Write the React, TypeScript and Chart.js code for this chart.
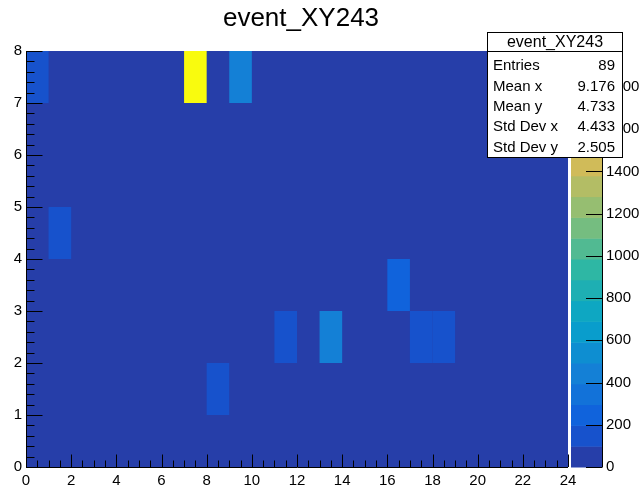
import React, { useEffect, useRef } from "react";
import { Chart, registerables } from "chart.js";

Chart.register(...registerables);

// ---------- data ----------
const TITLE = "event_XY243";
const X_MIN = 0;
const X_MAX = 24;
const Y_MIN = 0;
const Y_MAX = 8;
const BIN_W = 1;
const BIN_H = 1;
const Z_MAX = 1970;
const N_CONTOURS = 20;
const X_TICK_STEP = 2;
const Y_TICK_STEP = 1;
const zTickValues = [0, 200, 400, 600, 800, 1000, 1200, 1400, 1600, 1800];

// lower bin edges and contents of the filled (non-background) cells
const cellXLow = [0, 1, 7, 9, 8, 11, 13, 16, 17, 18];
const cellYLow = [7, 4, 7, 7, 1, 2, 2, 3, 2, 2];
const cellValue = [150, 150, 1970, 450, 150, 160, 450, 250, 150, 150];

const statLabels = ["Entries", "Mean x", "Mean y", "Std Dev x", "Std Dev y"];
const statValues = ["89", "9.176", "4.733", "4.433", "2.505"];

// ---------- style ----------
const FONT = '"Liberation Sans", Arial, Helvetica, sans-serif';

const birdStops = [0.0, 0.125, 0.25, 0.375, 0.5, 0.625, 0.75, 0.875, 1.0];
const birdR = [0.2082, 0.0592, 0.078, 0.0232, 0.1802, 0.5301, 0.8186, 0.9956, 0.9764];
const birdG = [0.1664, 0.3599, 0.5041, 0.6419, 0.7178, 0.7492, 0.7328, 0.7862, 0.9832];
const birdB = [0.5293, 0.8684, 0.8385, 0.7914, 0.6425, 0.4662, 0.3499, 0.1968, 0.0539];

function bird(f: number): string {
  const t = Math.max(0, Math.min(1, f));
  let k = 0;
  while (k < birdStops.length - 2 && t > birdStops[k + 1]) k++;
  const u = (t - birdStops[k]) / (birdStops[k + 1] - birdStops[k]);
  const c = (a: number[]) => Math.round(255 * (a[k] + (a[k + 1] - a[k]) * u));
  return `rgb(${c(birdR)},${c(birdG)},${c(birdB)})`;
}

function contourIndex(v: number): number {
  const i = Math.floor(v / (Z_MAX / N_CONTOURS));
  return Math.max(0, Math.min(N_CONTOURS - 1, i));
}
function contourColor(i: number): string {
  return bird((i + 0.99) / N_CONTOURS);
}

const rootPlugin = {
  id: "rootLook",
  beforeDatasetsDraw(chart: any) {
    const { ctx, chartArea } = chart;
    const { left, right, top, bottom } = chartArea;
    const xs = chart.scales.x;
    const ys = chart.scales.y;
    const zs = chart.scales.z;
    ctx.save();
    ctx.fillStyle = contourColor(0);
    ctx.fillRect(left, top, right - left, bottom - top);
    const data = chart.data.datasets[0].data;
    for (const d of data) {
      const x0 = xs.getPixelForValue(d.x - BIN_W / 2);
      const x1 = xs.getPixelForValue(d.x + BIN_W / 2);
      const y0 = ys.getPixelForValue(d.y + BIN_H / 2);
      const y1 = ys.getPixelForValue(d.y - BIN_H / 2);
      ctx.fillStyle = contourColor(contourIndex(d.v));
      ctx.fillRect(x0, y0, x1 - x0, y1 - y0);
    }
    const barL = zs.left + 3;
    const barR = zs.left + 34;
    const step = Z_MAX / N_CONTOURS;
    for (let i = 0; i < N_CONTOURS; i++) {
      const yb = zs.getPixelForValue(i * step);
      const yt = zs.getPixelForValue((i + 1) * step);
      ctx.fillStyle = contourColor(i);
      ctx.fillRect(barL, yt, barR - barL, yb - yt + 0.5);
    }
    ctx.restore();
  },
  afterDatasetsDraw(chart: any) {
    const { ctx, chartArea } = chart;
    const { left, right, top, bottom } = chartArea;
    const xs = chart.scales.x;
    const ys = chart.scales.y;
    const zs = chart.scales.z;
    ctx.save();
    ctx.strokeStyle = "#000";
    ctx.lineWidth = 1;
    ctx.beginPath();
    const nx = Math.round((X_MAX - X_MIN) / 0.5);
    for (let k = 0; k <= nx; k++) {
      const v = X_MIN + k * 0.5;
      const px = Math.round(xs.getPixelForValue(v)) + 0.5;
      const len = k % 4 === 0 ? 12.5 : 6.5;
      ctx.moveTo(px, bottom);
      ctx.lineTo(px, bottom - len);
    }
    const ny = Math.round((Y_MAX - Y_MIN) / 0.2);
    for (let k = 0; k <= ny; k++) {
      const v = Y_MIN + k * 0.2;
      const py = Math.round(ys.getPixelForValue(v)) + 0.5;
      const len = k % 5 === 0 ? 16.5 : 8.5;
      ctx.moveTo(left, py);
      ctx.lineTo(left + len, py);
    }
    ctx.moveTo(Math.round(left) + 0.5, top);
    ctx.lineTo(Math.round(left) + 0.5, Math.round(bottom) + 0.5);
    ctx.lineTo(right, Math.round(bottom) + 0.5);
    const barR = Math.round(zs.left + 34) + 0.5;
    ctx.moveTo(barR, top);
    ctx.lineTo(barR, bottom);
    for (const t of zs.ticks) {
      const py = Math.round(zs.getPixelForValue(t.value)) + 0.5;
      ctx.moveTo(barR - 16.5, py);
      ctx.lineTo(barR, py);
    }
    ctx.stroke();
    ctx.restore();
  },
  afterDraw(chart: any) {
    const { ctx } = chart;
    ctx.save();
    ctx.fillStyle = "#000";
    ctx.font = `26px ${FONT}`;
    ctx.textAlign = "center";
    ctx.textBaseline = "middle";
    ctx.fillText(TITLE, 301, 19);
    const bx = 487.5, by = 32.5, bw = 135, bh = 125;
    ctx.fillStyle = "#fff";
    ctx.fillRect(bx, by, bw, bh);
    ctx.strokeStyle = "#000";
    ctx.lineWidth = 1;
    ctx.strokeRect(bx, by, bw, bh);
    ctx.beginPath();
    ctx.moveTo(bx, 51.5);
    ctx.lineTo(bx + bw, 51.5);
    ctx.stroke();
    ctx.fillStyle = "#000";
    ctx.font = `16px ${FONT}`;
    ctx.textAlign = "center";
    ctx.fillText(TITLE, bx + bw / 2, 42.5);
    ctx.font = `15px ${FONT}`;
    const rows = [65.5, 86.5, 106.5, 127, 147.5];
    statLabels.forEach((lab, i) => {
      ctx.textAlign = "left";
      ctx.fillText(lab, 493, rows[i]);
      ctx.textAlign = "right";
      ctx.fillText(statValues[i], 615, rows[i]);
    });
    ctx.restore();
  },
};

export default function App() {
  const ref = useRef<HTMLCanvasElement | null>(null);
  useEffect(() => {
    if (!ref.current) return;
    const points = cellXLow.map((x, i) => ({
      x: x + BIN_W / 2,
      y: cellYLow[i] + BIN_H / 2,
      v: cellValue[i],
    }));
    const tickFont = { family: FONT, size: 15 };
    const chart = new Chart(ref.current, {
      type: "scatter",
      data: {
        datasets: [
          { label: TITLE, data: points as any, pointRadius: 0, pointHoverRadius: 0 },
        ],
      },
      plugins: [rootPlugin],
      options: {
        responsive: false,
        animation: false,
        devicePixelRatio: 1,
        events: [],
        layout: { padding: { top: 51, left: 0, right: 0, bottom: 0 } },
        plugins: {
          legend: { display: false },
          tooltip: { enabled: false },
          title: { display: false },
        },
        scales: {
          x: {
            type: "linear",
            min: X_MIN,
            max: X_MAX,
            grid: { display: false, drawTicks: false },
            border: { display: false },
            ticks: {
              stepSize: X_TICK_STEP,
              autoSkip: false,
              maxRotation: 0,
              color: "#000",
              font: tickFont,
              padding: 5,
            },
            afterFit: (s: any) => {
              s.height = 23;
            },
          },
          y: {
            type: "linear",
            position: "left",
            min: Y_MIN,
            max: Y_MAX,
            grid: { display: false, drawTicks: false },
            border: { display: false },
            ticks: {
              stepSize: Y_TICK_STEP,
              color: "#000",
              font: tickFont,
              padding: 4,
            },
            afterFit: (s: any) => {
              s.width = 26;
              s.paddingTop = 0;
              s.paddingBottom = 0;
            },
          },
          z: {
            type: "linear",
            position: "right",
            min: 0,
            max: Z_MAX,
            grid: { display: false, drawTicks: false },
            border: { display: false },
            afterBuildTicks: (s: any) => {
              s.ticks = zTickValues.map((v) => ({ value: v }));
            },
            ticks: {
              color: "#000",
              font: tickFont,
              padding: 38,
              callback: (v: any) => String(v),
            },
            afterFit: (s: any) => {
              s.width = 73;
              s.paddingTop = 0;
              s.paddingBottom = 0;
            },
          },
        } as any,
      },
    });
    return () => chart.destroy();
  }, []);
  return (
    <canvas
      ref={ref}
      width={641}
      height={490}
      style={{ position: "fixed", left: 0, top: 0, width: 641, height: 490 }}
    />
  );
}
